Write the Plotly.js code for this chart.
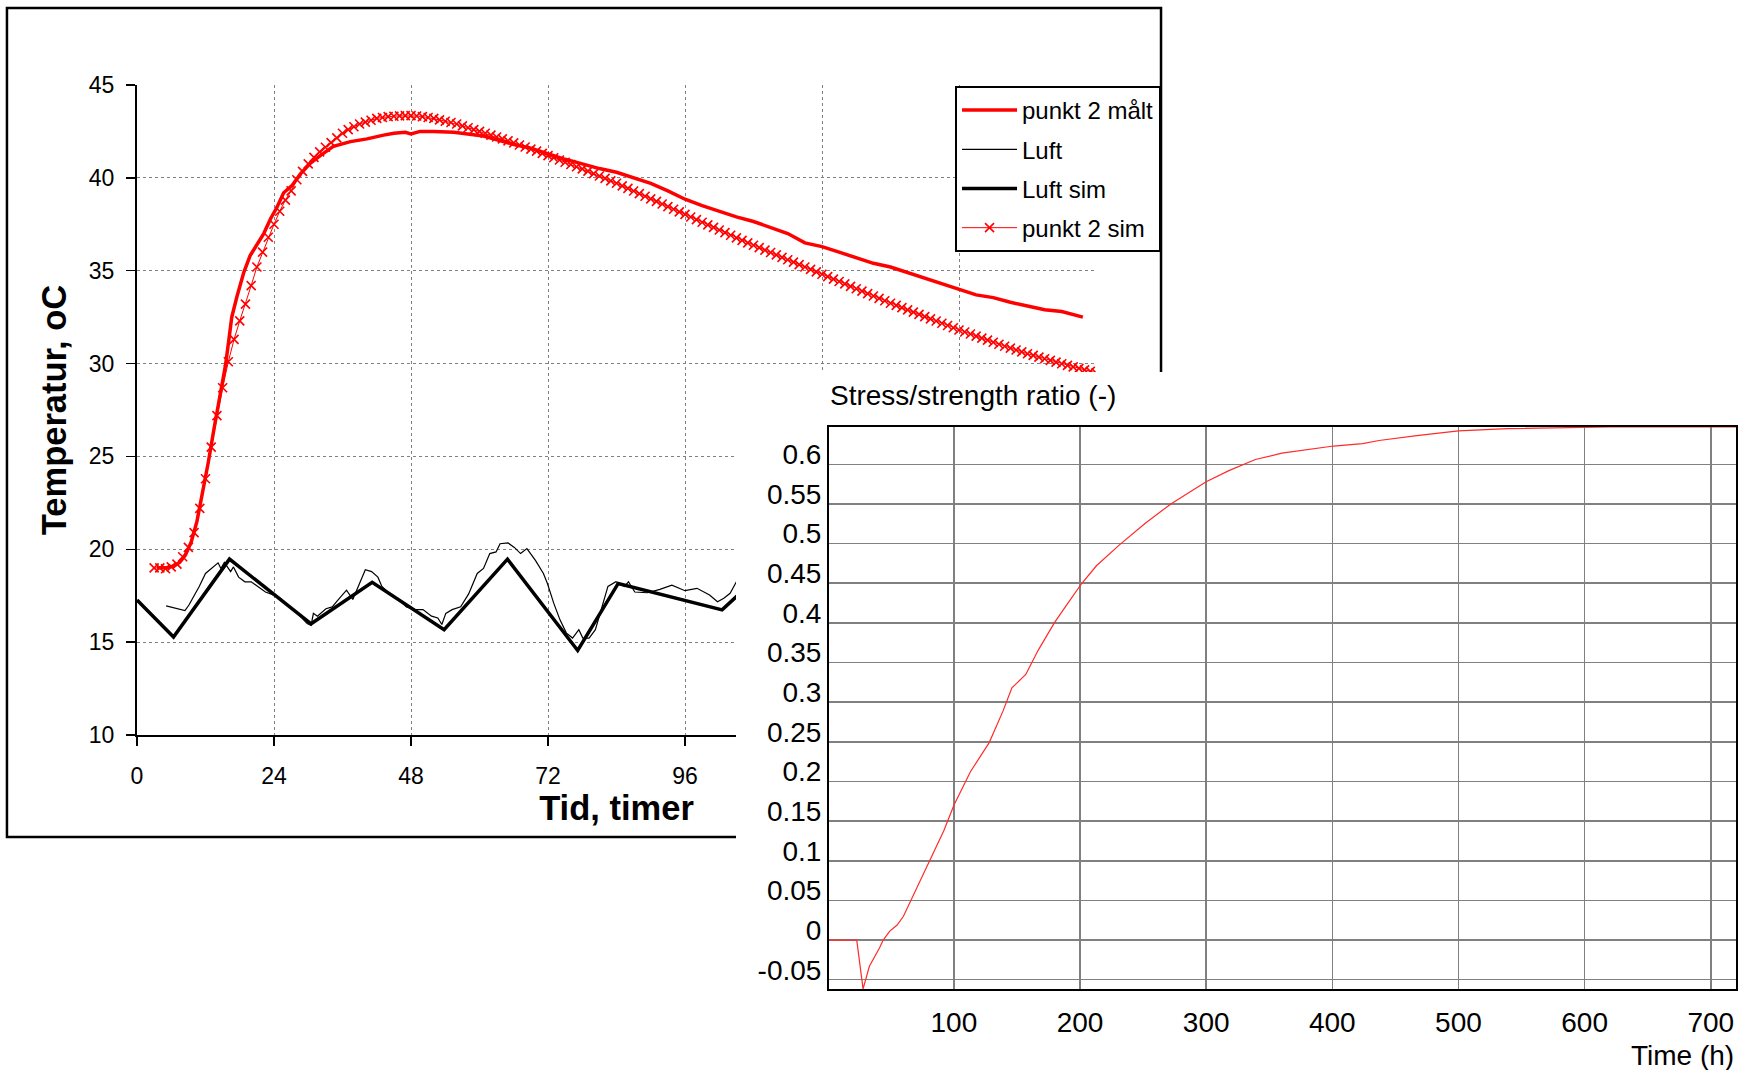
<!DOCTYPE html>
<html><head><meta charset="utf-8">
<script src="https://cdn.plot.ly/plotly-3.0.1.min.js"></script>
<style>
body{margin:0;background:#fff;}
#left{position:absolute;left:0;top:0;width:1746px;height:1070px;}
#right{position:absolute;left:736px;top:372px;width:1010px;height:698px;background:#fff;}
</style></head><body>
<div id="left"></div><div id="right"></div>
<script>
// ---------- Left chart data (temperature, hours) ----------
const xTicksL = [0, 24, 48, 72, 96, 120, 144, 168];
const xTickTextL = ['0', '24', '48', '72', '96', '', '', ''];

const maltX = [3.5, 5, 6.5, 7.5, 8.5, 9.5, 10.5, 11.5, 12.5, 13.5, 14.5, 15.5, 16.1, 16.6, 17.5, 18.7, 19.8, 21.0, 22.2, 23.4, 24.5, 25.7, 27.2, 28.6, 30.4, 32.1, 34.4, 37.4, 40.3, 43.2, 45, 47, 48, 49.6, 52, 55.5, 57.8, 60.7, 63.7, 66, 69, 72, 75, 78, 81, 84, 87, 90, 93, 96, 99, 102, 105, 108, 111, 114, 117, 120, 123, 126, 129, 132, 135, 138, 141, 144, 147, 150, 153, 156, 159, 162, 165.7];
const maltY = [19.0, 19.0, 19.1, 19.3, 19.7, 20.4, 21.5, 23.0, 24.7, 26.5, 28.3, 29.9, 31.3, 32.5, 33.6, 34.9, 35.8, 36.4, 37.0, 37.8, 38.4, 39.2, 39.6, 40.2, 40.8, 41.2, 41.7, 41.95, 42.1, 42.3, 42.4, 42.45, 42.36, 42.5, 42.5, 42.45, 42.36, 42.25, 42.0, 41.8, 41.6, 41.3, 41.0, 40.75, 40.5, 40.3, 40.0, 39.7, 39.3, 38.85, 38.5, 38.2, 37.9, 37.65, 37.3, 37.0, 36.5, 36.3, 36.0, 35.7, 35.4, 35.2, 34.9, 34.6, 34.3, 34.0, 33.7, 33.55, 33.3, 33.1, 32.9, 32.8, 32.5];

const luftX = [5.1, 8.4, 9.1, 10.9, 12.0, 13.4, 14.2, 14.7, 15.3, 16.4, 16.9, 17.8, 18.9, 20.0, 21.1, 22.5, 24.7, 26.9, 28.3, 29.8, 30.5, 30.9, 31.6, 33.1, 34.2, 35.3, 36.7, 37.8, 38.9, 40.0, 41.1, 42.2, 42.9, 44.3, 45.8, 47.2, 48.7, 50.1, 51.6, 52.7, 53.4, 54.1, 55.2, 56.7, 58.1, 59.6, 60.7, 61.8, 62.9, 63.6, 65.0, 66.1, 67.2, 68.3, 69.8, 71.2, 71.9, 73.0, 74.1, 75.2, 76.3, 77.4, 78.1, 79.2, 80.3, 81.4, 82.5, 83.9, 85.4, 86.1, 87.2, 89.4, 91.6, 93.7, 96.0, 98.1, 100.3, 101.7, 102.8, 103.9, 105.0, 106.5];
const luftY = [16.95, 16.7, 17.0, 18.0, 18.7, 19.05, 19.27, 18.96, 19.3, 18.8, 19.05, 18.5, 18.25, 18.25, 18.0, 17.7, 17.45, 16.9, 16.5, 16.0, 15.9, 16.55, 16.4, 16.8, 16.9, 17.3, 17.8, 17.3, 18.1, 18.9, 18.8, 18.5, 18.0, 17.6, 17.3, 16.9, 16.75, 16.75, 16.4, 16.3, 15.95, 16.55, 16.75, 16.9, 17.6, 18.7, 18.97, 19.77, 19.86, 20.3, 20.34, 20.1, 19.77, 20.04, 19.4, 18.7, 18.16, 17.1, 16.2, 15.5, 15.22, 15.67, 15.22, 15.22, 15.67, 16.9, 18.0, 18.25, 18.0, 18.25, 17.7, 17.66, 17.84, 18.07, 17.77, 17.9, 17.54, 17.18, 17.36, 17.63, 18.25, 18.6];

const luftSimX = [0, 6.4, 16.2, 30.5, 41.2, 53.8, 64.9, 77.2, 84.3, 102.5, 105.0, 108.0];
const luftSimY = [17.27, 15.28, 19.47, 15.99, 18.22, 15.67, 19.47, 14.55, 18.16, 16.74, 17.45, 18.2];

const simX = [];
for (let h = 3; h <= 168; h++) simX.push(h);
const simY = [19.0, 19.0, 18.95, 19.05, 19.2, 19.6, 20.1, 20.9, 22.2, 23.8, 25.5, 27.2, 28.7, 30.1, 31.3, 32.3, 33.2, 34.2, 35.2, 36.0, 36.8, 37.5, 38.2, 38.8, 39.3, 39.9, 40.35, 40.75, 41.1, 41.4, 41.65, 41.9, 42.15, 42.4, 42.6, 42.75, 42.9, 43.0, 43.1, 43.2, 43.25, 43.3, 43.32, 43.34, 43.35, 43.35, 43.33, 43.3, 43.25, 43.2, 43.12, 43.05, 42.98, 42.9, 42.8, 42.7, 42.6, 42.5, 42.4, 42.3, 42.2, 42.1, 41.99, 41.88, 41.77, 41.66, 41.55, 41.44, 41.32, 41.2, 41.08, 40.96, 40.84, 40.72, 40.6, 40.48, 40.36, 40.23, 40.1, 39.97, 39.84, 39.71, 39.57, 39.43, 39.29, 39.15, 39.01, 38.87, 38.73, 38.59, 38.45, 38.31, 38.17, 38.03, 37.89, 37.75, 37.61, 37.47, 37.33, 37.19, 37.05, 36.91, 36.77, 36.63, 36.5, 36.37, 36.24, 36.11, 35.98, 35.85, 35.72, 35.59, 35.46, 35.33, 35.2, 35.07, 34.94, 34.81, 34.68, 34.55, 34.42, 34.29, 34.16, 34.03, 33.9, 33.77, 33.64, 33.51, 33.38, 33.25, 33.13, 33.01, 32.89, 32.77, 32.65, 32.53, 32.41, 32.29, 32.17, 32.05, 31.93, 31.81, 31.7, 31.59, 31.48, 31.37, 31.26, 31.15, 31.04, 30.93, 30.83, 30.73, 30.63, 30.53, 30.44, 30.35, 30.26, 30.17, 30.08, 29.99, 29.9, 29.82, 29.74, 29.66, 29.58, 29.5];

// ---------- Right chart data (stress/strength ratio) ----------
const stressX = [1, 23, 28, 33, 41, 44, 49, 55, 60, 63, 66, 72, 82, 92, 100, 113, 128, 139, 146, 157, 167, 180, 190, 201, 213, 231, 252, 272, 288, 300, 318, 339, 360, 385, 401, 424, 437, 467, 500, 539, 580, 620, 660, 700, 720];
const stressY = [0, 0, -0.0616, -0.033, -0.010, 0.0, 0.011, 0.019, 0.030, 0.040, 0.052, 0.070, 0.104, 0.138, 0.170, 0.212, 0.249, 0.289, 0.318, 0.335, 0.366, 0.401, 0.424, 0.449, 0.472, 0.498, 0.526, 0.550, 0.566, 0.578, 0.592, 0.606, 0.614, 0.620, 0.623, 0.626, 0.630, 0.636, 0.642, 0.645, 0.646, 0.647, 0.647, 0.647, 0.647];
const stressXTicks = [100, 200, 300, 400, 500, 600, 700];
const stressYTicks = [-0.05, 0, 0.05, 0.1, 0.15, 0.2, 0.25, 0.3, 0.35, 0.4, 0.45, 0.5, 0.55, 0.6];
const stressYLabels = ['-0.05', '0', '0.05', '0.1', '0.15', '0.2', '0.25', '0.3', '0.35', '0.4', '0.45', '0.5', '0.55', '0.6'];

const FONT = 'Liberation Sans, Arial, Helvetica, sans-serif';

// ---------- Left chart ----------
const tracesL = [
  {x: maltX, y: maltY, name: 'punkt 2 målt', mode: 'lines', legendgroup: 'a',
   line: {color: '#ff0000', width: 3.5}},
  {x: luftX, y: luftY, name: 'Luft', mode: 'lines', legendgroup: 'b',
   line: {color: '#000000', width: 1.2}},
  {x: luftSimX, y: luftSimY, name: 'Luft sim', mode: 'lines', legendgroup: 'c',
   line: {color: '#000000', width: 3.5}},
  {x: simX, y: simY, name: 'punkt 2 sim', mode: 'lines+markers', legendgroup: 'd',
   line: {color: '#ff0000', width: 1},
   marker: {symbol: 'x-thin', size: 9, color: '#ff0000', line: {color: '#ff0000', width: 1.6}}}
];

const layoutL = {
  width: 1746, height: 1070,
  margin: {l: 137, r: 650, t: 85, b: 335},
  paper_bgcolor: 'rgba(0,0,0,0)', plot_bgcolor: 'rgba(0,0,0,0)',
  font: {family: FONT, color: '#000'},
  showlegend: true,
  legend: {x: 0.853, y: 0.9985, xanchor: 'left', yanchor: 'top', bgcolor: '#fff',
           bordercolor: '#000', borderwidth: 2, font: {size: 24, family: FONT, color: '#000'},
           traceorder: 'grouped', tracegroupgap: 5, itemwidth: 55},
  xaxis: {range: [0, 168], tickvals: xTicksL, ticktext: xTickTextL, ticks: 'outside', ticklen: 9, tickwidth: 1.5, tickcolor: '#000',
          showline: true, linecolor: '#000', linewidth: 2, showgrid: true, gridcolor: '#808080',
          griddash: 'dot', gridwidth: 1, zeroline: false, tickfont: {size: 23}, ticklabelstandoff: 10,
          automargin: false,
          title: {text: '<b>Tid, timer</b>', font: {size: 34.5, family: FONT}, standoff: 6}},
  yaxis: {range: [10, 45], tick0: 10, dtick: 5, ticks: 'outside', ticklen: 9, tickwidth: 1.5, tickcolor: '#000',
          showline: true, linecolor: '#000', linewidth: 2, showgrid: true, gridcolor: '#808080',
          griddash: 'dot', gridwidth: 1, zeroline: false, tickfont: {size: 23}, ticklabelstandoff: 7,
          automargin: false,
          title: {text: '<b>Temperatur, oC</b>', font: {size: 34.5, family: FONT}, standoff: 12}},
  shapes: [{type: 'rect', xref: 'paper', yref: 'paper', x0: -0.1356, x1: 1.0678, y0: -0.1569, y1: 1.1185,
            line: {color: '#000', width: 2.5}, fillcolor: 'rgba(0,0,0,0)', layer: 'below'}]
};

// ---------- Right chart ----------
const tracesR = [
  {x: stressX, y: stressY, mode: 'lines', line: {color: '#ff2a2a', width: 1.2}, showlegend: false}
];
const layoutR = {
  width: 1010, height: 698,
  margin: {l: 93, r: 10, t: 55, b: 81},
  paper_bgcolor: '#fff', plot_bgcolor: '#fff',
  font: {family: FONT, size: 28, color: '#000'},
  showlegend: false,
  xaxis: {range: [1, 720], tickvals: stressXTicks, ticks: '', showgrid: true, gridcolor: '#808080', gridwidth: 1.5,
          showline: true, mirror: true, linecolor: '#000', linewidth: 2, zeroline: false,
          tickfont: {size: 28}, ticklabelstandoff: 7, automargin: false},
  yaxis: {range: [-0.0617, 0.647], tickvals: stressYTicks, ticktext: stressYLabels, ticks: '', showgrid: true,
          gridcolor: '#808080', gridwidth: 1.5, showline: true, mirror: true, linecolor: '#000', linewidth: 2,
          zeroline: false, tickfont: {size: 28}, ticklabelstandoff: 0, ticklabelshift: -10, automargin: false},
  annotations: [
    {text: 'Stress/strength ratio (-)', xref: 'paper', yref: 'paper', x: 0, y: 1, xanchor: 'left', yanchor: 'middle',
     xshift: -1, yshift: 32, showarrow: false, font: {size: 28, family: FONT, color: '#000'}},
    {text: 'Time (h)', xref: 'paper', yref: 'paper', x: 1, y: 0, xanchor: 'right', yanchor: 'middle',
     yshift: -66, showarrow: false, font: {size: 28, family: FONT, color: '#000'}}
  ]
};

Plotly.newPlot('left', tracesL, layoutL, {staticPlot: true, displayModeBar: false});
Plotly.newPlot('right', tracesR, layoutR, {staticPlot: true, displayModeBar: false});
</script></body></html>
